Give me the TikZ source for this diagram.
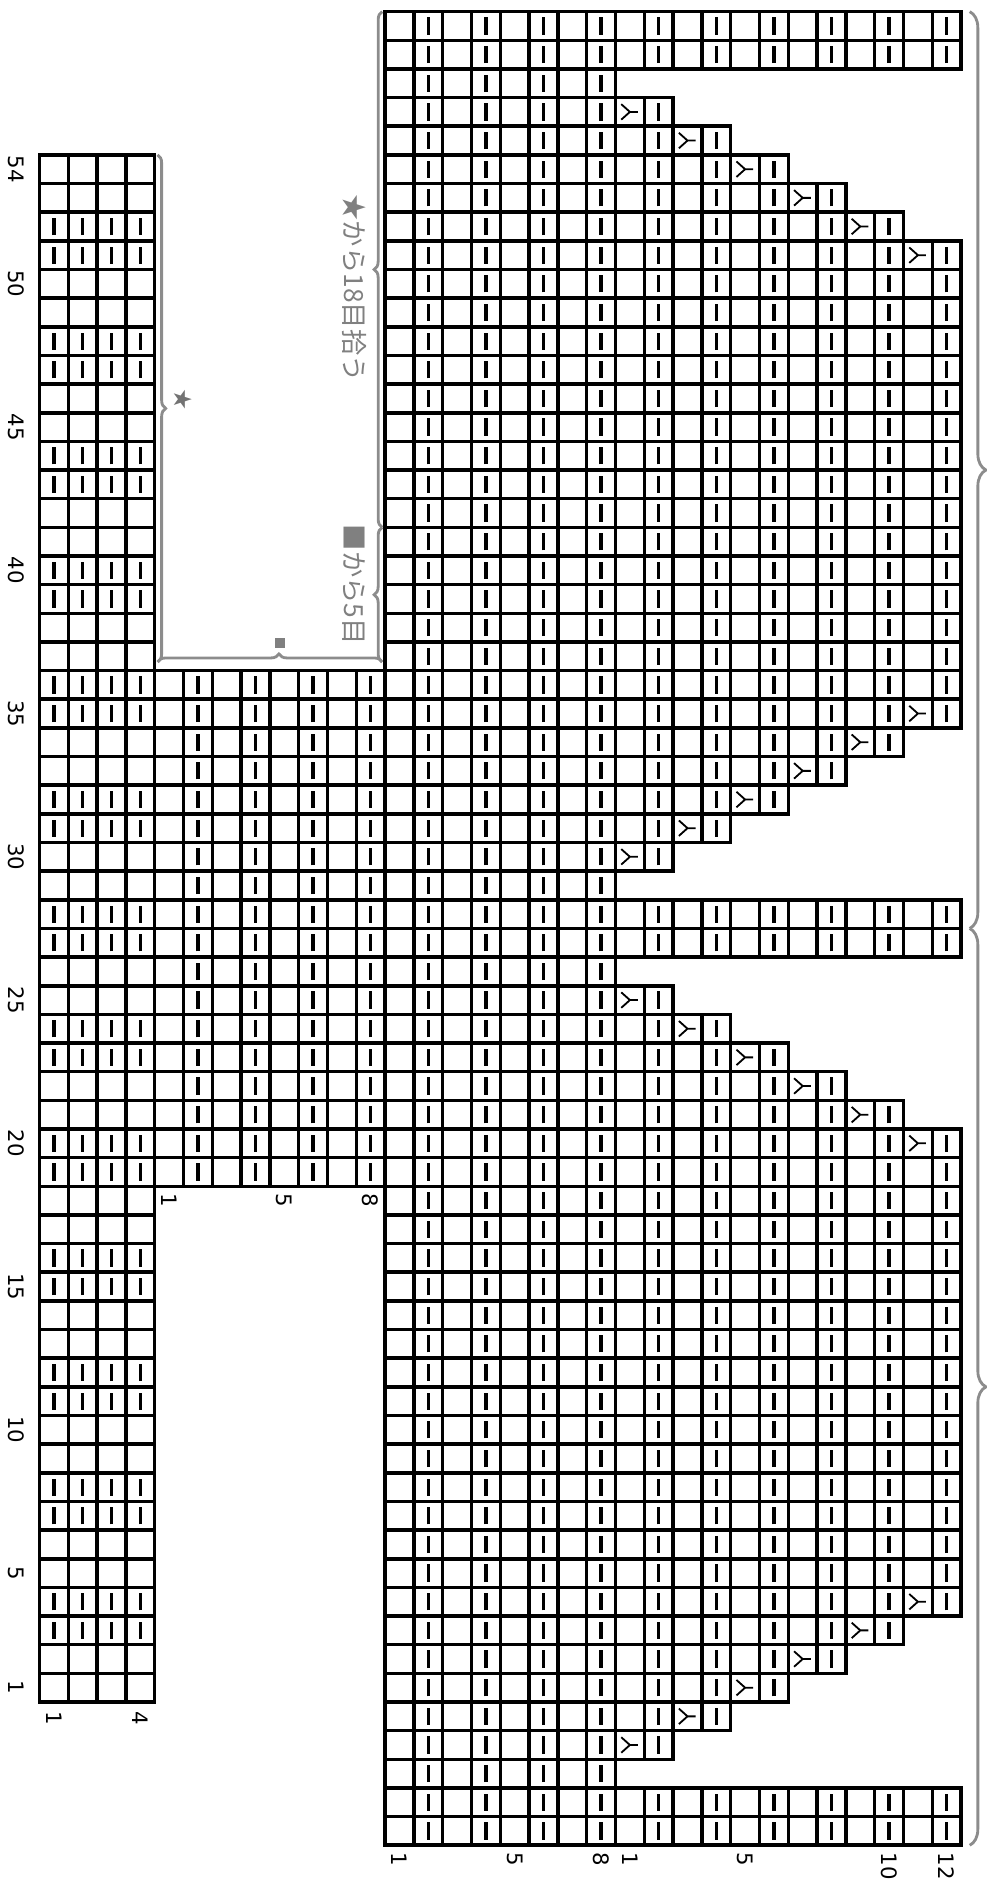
\documentclass[tikz,border=0pt]{standalone}
\usepackage{fontspec}
\newfontfamily\jpfont{Noto Sans CJK JP}
\newfontfamily\numfont{DejaVu Sans}
\usepackage{tikz}
\usetikzlibrary{decorations.pathreplacing}

\begin{document}
\begin{tikzpicture}[x=0.5cm,y=0.4974cm,
  cell/.style={draw,line width=1.75pt},
  bar/.style={line width=1.6pt},
  tog/.style={line width=0.9pt,line join=round},
  num/.style={font=\numfont\fontsize{10.5}{10.5}\selectfont,rotate=-90,inner sep=0pt},
  guide/.style={draw=black!45,line width=1.4pt,decorate,decoration={brace,amplitude=#1}},
  note/.style={text=black!50,font=\jpfont\fontsize{13}{13}\selectfont,rotate=-90,inner sep=0pt}]
  \useasboundingbox (-1.372,-6.352) rectangle (32.865,59.407);
  \foreach \r in {0,...,53}{
    \foreach \c in {0,...,3}{\draw[cell] (\c,\r) rectangle ++(1,1);}
  }
  \foreach \m in {0,...,12}{
    \foreach \r in {2,3}{
      \foreach \c in {0,...,3}{\draw[bar] (\c+0.5,4*\m+\r+0.2) -- ++(0,0.6);}
    }
  }
  \foreach \r in {18,...,35}{
    \foreach \c in {4,...,11}{\draw[cell] (\c,\r) rectangle ++(1,1);}
    \foreach \c in {5,7,9,11}{\draw[bar] (\c+0.5,\r+0.2) -- ++(0,0.6);}
  }
  \foreach \r in {-5,...,58}{
    \foreach \c in {12,...,19}{\draw[cell] (\c,\r) rectangle ++(1,1);}
    \foreach \c in {13,15,17,19}{\draw[bar] (\c+0.5,\r+0.2) -- ++(0,0.6);}
  }
  \foreach \i in {0,1,9,10,...,23,31,32,40,41,...,54,62,63}{
    \foreach \c in {20,...,31}{\draw[cell] (\c,58-\i) rectangle ++(1,1);}
    \foreach \c in {21,23,...,31}{\draw[bar] (\c+0.5,58.2-\i) -- ++(0,0.6);}
  }
  \foreach \b in {3,34}{
    \foreach \j in {0,...,5}{
      \pgfmathtruncatemacro\yy{58-\b-\j}
      \pgfmathtruncatemacro\xe{21+2*\j}
      \foreach \c in {20,...,\xe}{\draw[cell] (\c,\yy) rectangle ++(1,1);}
      \foreach \k in {0,...,\j}{\draw[bar] (21.5+2*\k,\yy+0.2) -- ++(0,0.6);}
      \draw[tog] (\xe-0.22,\yy+0.5) -- (\xe-0.5,\yy+0.5) -- ++(-0.3,0.27)
        (\xe-0.5,\yy+0.5) -- ++(-0.3,-0.27);
    }
  }
  \foreach \b in {24,55}{
    \foreach \j in {0,...,5}{
      \pgfmathtruncatemacro\yy{58-\b-\j}
      \pgfmathtruncatemacro\xe{31-2*\j}
      \pgfmathtruncatemacro\kk{5-\j}
      \foreach \c in {20,...,\xe}{\draw[cell] (\c,\yy) rectangle ++(1,1);}
      \foreach \k in {0,...,\kk}{\draw[bar] (21.5+2*\k,\yy+0.2) -- ++(0,0.6);}
      \draw[tog] (\xe-0.22,\yy+0.5) -- (\xe-0.5,\yy+0.5) -- ++(-0.3,0.27)
        (\xe-0.5,\yy+0.5) -- ++(-0.3,-0.27);
    }
  }
  \foreach \r in {1,5,10,15,...,50,54}{\node[num] (row\r) at (-0.8,\r-0.5) {\r};}
  \node[num,anchor=west] (band1) at (0.5,-0.3) {1};
  \node[num,anchor=west] (band4) at (3.5,-0.3) {4};
  \node[num,anchor=west] (mid1) at (4.5,17.75) {1};
  \node[num,anchor=west] (mid5) at (8.5,17.75) {5};
  \node[num,anchor=west] (mid8) at (11.5,17.75) {8};
  \foreach \x/\t [count=\n] in {12.5/1,16.5/5,19.5/8,20.5/1,24.5/5,29.5/10,31.5/12}{
    \node[num,anchor=west] (col\n) at (\x,-5.25) {\t};
  }
  \coordinate (p1) at (4.1,54);
  \coordinate (p2) at (4.1,36.3);
  \coordinate (p3) at (11.9,36.3);
  \coordinate (p4) at (11.9,41);
  \coordinate (p5) at (11.9,59);
  \draw[guide=4pt] (p1) -- (p2);
  \draw[guide=4pt,decoration={aspect=0.54}] (p2) -- (p3);
  \draw[guide=4pt] (p3) -- (p4);
  \draw[guide=4pt] (p4) -- (p5);
  \coordinate (q1) at (32.3,59);
  \coordinate (q2) at (32.3,27);
  \coordinate (q3) at (32.3,-5);
  \draw[guide=8pt] (q1) -- (q2);
  \draw[guide=8pt] (q2) -- (q3);
  \node[text=black!55,font=\jpfont\fontsize{10}{10}\selectfont,rotate=-90,inner sep=0pt] (star) at (4.98,45.45) {★};
  \node[fill=black!50,minimum size=5pt,inner sep=0pt] (sq) at (8.35,36.95) {};
  \node[note] (pick18) at (10.93,49.35) {★から18目拾う};
  \node[note] (pick5) at (10.93,39.0) {■から5目};
\end{tikzpicture}
\end{document}
